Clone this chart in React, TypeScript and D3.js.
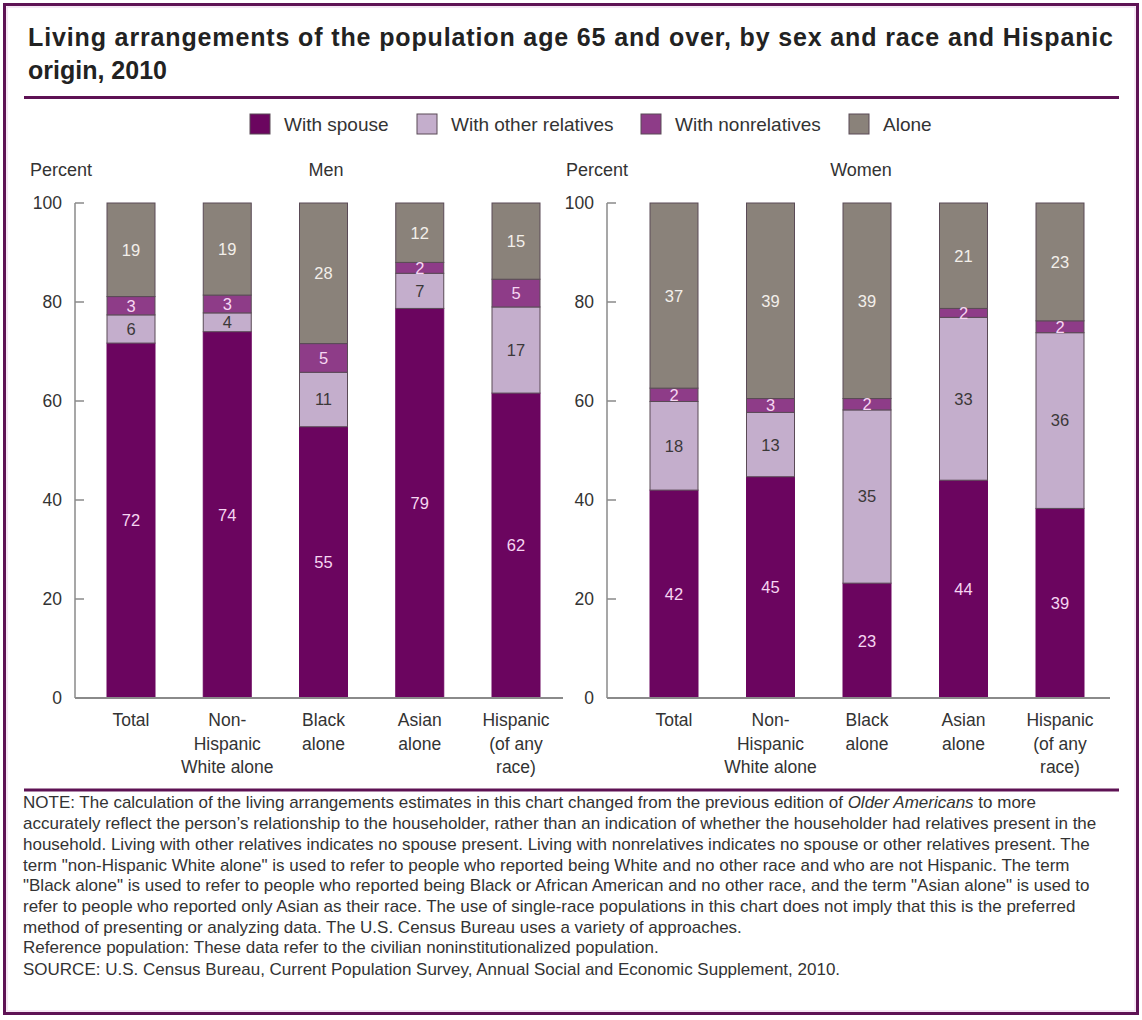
import React from "react";
import * as d3 from "d3";

const categories = ["Total", "Non-Hispanic White alone", "Black alone", "Asian alone", "Hispanic (of any race)"];
const categoryLines = [["Total"], ["Non-", "Hispanic", "White alone"], ["Black", "alone"], ["Asian", "alone"], ["Hispanic", "(of any", "race)"]];
const seriesNames = ["With spouse", "With other relatives", "With nonrelatives", "Alone"];
const seriesColors = ["#6b055f", "#c4aecc", "#8e3c88", "#8a827a"];
const labelColors = ["#f6d6f2", "#3b3838", "#f6d6f2", "#f3efea"];

// Estimated stack heights (percent)
const menSpouse = [71.7, 74.0, 54.8, 78.7, 61.6];
const menOther = [5.7, 3.8, 11.0, 7.1, 17.4];
const menNonrel = [3.7, 3.6, 5.8, 2.2, 5.6];
const menAlone = [18.9, 18.6, 28.4, 12.0, 15.4];
// Published labels
const menSpouseLbl = ["72", "74", "55", "79", "62"];
const menOtherLbl = ["6", "4", "11", "7", "17"];
const menNonrelLbl = ["3", "3", "5", "2", "5"];
const menAloneLbl = ["19", "19", "28", "12", "15"];

const womenSpouse = [42.0, 44.7, 23.2, 44.0, 38.3];
const womenOther = [17.9, 13.0, 35.0, 32.9, 35.5];
const womenNonrel = [2.7, 2.8, 2.3, 1.8, 2.4];
const womenAlone = [37.4, 39.5, 39.5, 21.3, 23.8];
const womenSpouseLbl = ["42", "45", "23", "44", "39"];
const womenOtherLbl = ["18", "13", "35", "33", "36"];
const womenNonrelLbl = ["2", "3", "2", "2", "2"];
const womenAloneLbl = ["37", "39", "39", "21", "23"];

const yTicks = [0, 20, 40, 60, 80, 100];

const noteLines = [
  "accurately reflect the person\u2019s relationship to the householder, rather than an indication of whether the householder had relatives present in the",
  "household. Living with other relatives indicates no spouse present. Living with nonrelatives indicates no spouse or other relatives present. The",
  "term \"non-Hispanic White alone\" is used to refer to people who reported being White and no other race and who are not Hispanic. The term",
  "\"Black alone\" is used to refer to people who reported being Black or African American and no other race, and the term \"Asian alone\" is used to",
  "refer to people who reported only Asian as their race. The use of single-race populations in this chart does not imply that this is the preferred",
  "method of presenting or analyzing data. The U.S. Census Bureau uses a variety of approaches.",
];

const FONT = "Arial, 'Liberation Sans', sans-serif";
const PURPLE = "#5e1254";

type PanelProps = {
  title: string;
  axisX: number;
  xStart: number;
  xEnd: number;
  axisEnd: number;
  percentX: number;
  titleX: number;
  values: number[][];
  labels: string[][];
};

function Panel({ title, axisX, xStart, xEnd, axisEnd, percentX, titleX, values, labels }: PanelProps) {
  const y = d3.scaleLinear().domain([0, 100]).range([698, 203]);
  const x = d3.scalePoint<string>().domain(categories).range([xStart, xEnd]);
  const barW = 48;
  const rows = categories.map((c, i) => {
    const obj: any = { cat: c };
    seriesNames.forEach((s, j) => (obj[s] = values[j][i]));
    return obj;
  });
  const stacked = d3.stack<any>().keys(seriesNames)(rows);
  return (
    <g>
      <text x={percentX} y={176} fontSize={18} fill="#333">Percent</text>
      <text x={titleX} y={176} fontSize={18} fill="#333" textAnchor="middle">{title}</text>
      {stacked.map((layer, j) =>
        layer.map((d, i) => {
          const cx = x(categories[i])!;
          const y0 = y(d[1]);
          const y1 = y(d[0]);
          return (
            <rect key={`${j}-${i}`} x={cx - barW / 2} y={y0} width={barW} height={y1 - y0} fill={seriesColors[j]}
              stroke={j === 0 ? seriesColors[0] : "#5a4a56"} strokeWidth={1} />
          );
        })
      )}
      {stacked.map((layer, j) =>
        layer.map((d, i) => {
          const cx = x(categories[i])!;
          const ym = (y(d[1]) + y(d[0])) / 2;
          return (
            <text key={`l${j}-${i}`} x={cx} y={ym} dy="0.36em" textAnchor="middle" fontSize={16.5} fill={labelColors[j]}>
              {labels[j][i]}
            </text>
          );
        })
      )}
      <line x1={axisX} x2={axisX} y1={203} y2={698} stroke="#8a8a8a" strokeWidth={1.5} />
      <line x1={axisX} x2={axisEnd} y1={698} y2={698} stroke="#8a8a8a" strokeWidth={2} />
      {yTicks.map((t) => (
        <g key={t}>
          <line x1={axisX} x2={axisX + 9} y1={y(t)} y2={y(t)} stroke="#8a8a8a" strokeWidth={1.5} />
          <text x={axisX - 13} y={y(t)} dy="0.36em" textAnchor="end" fontSize={17.5} fill="#333">{t}</text>
        </g>
      ))}
      {categoryLines.map((lines, i) => (
        <text key={i} x={x(categories[i])!} y={726} textAnchor="middle" fontSize={17.5} fill="#333">
          {lines.map((ln, k) => (
            <tspan key={k} x={x(categories[i])!} dy={k === 0 ? 0 : 23.5}>{ln}</tspan>
          ))}
        </text>
      ))}
    </g>
  );
}

export default function App() {
  const legendX = [250, 417, 641, 849];
  return (
    <svg width={1142} height={1020} style={{ position: "absolute", left: 0, top: 0, background: "#fff" }} fontFamily={FONT}>
      <rect x={0} y={0} width={1142} height={1020} fill="#fff" />
      <rect x={4.5} y={4.5} width={1133} height={1009} fill="none" stroke={PURPLE} strokeWidth={3} />
      <rect x={7} y={7} width={1128} height={1004} fill="none" stroke="#ecd2ea" strokeWidth={1} />
      <text x={28} y={46} fontSize={25} fontWeight="bold" fill="#222" textLength={1085} lengthAdjust="spacing">
        Living arrangements of the population age 65 and over, by sex and race and Hispanic
      </text>
      <text x={28} y={79} fontSize={25} fontWeight="bold" fill="#222">origin, 2010</text>
      <line x1={24} x2={1119} y1={97.5} y2={97.5} stroke={PURPLE} strokeWidth={3} />
      {seriesNames.map((s, j) => (
        <g key={s}>
          <rect x={legendX[j]} y={114} width={20} height={20} fill={seriesColors[j]} stroke="#5a4a56" strokeWidth={1} />
          <text x={legendX[j] + 34} y={124} dy="0.36em" fontSize={19} fill="#333">{s}</text>
        </g>
      ))}
      <Panel title="Men" axisX={75} xStart={131} xEnd={516} axisEnd={563} percentX={30} titleX={326}
        values={[menSpouse, menOther, menNonrel, menAlone]}
        labels={[menSpouseLbl, menOtherLbl, menNonrelLbl, menAloneLbl]} />
      <Panel title="Women" axisX={607} xStart={674} xEnd={1060} axisEnd={1110} percentX={566} titleX={861}
        values={[womenSpouse, womenOther, womenNonrel, womenAlone]}
        labels={[womenSpouseLbl, womenOtherLbl, womenNonrelLbl, womenAloneLbl]} />
      <line x1={24} x2={1119} y1={790} y2={790} stroke={PURPLE} strokeWidth={3} />
      <g fontSize={17} fill="#333">
        <text x={23} y={808}>
          NOTE: The calculation of the living arrangements estimates in this chart changed from the previous edition of{" "}
          <tspan fontStyle="italic">Older Americans</tspan> to more
        </text>
        {noteLines.map((ln, i) => (
          <text key={i} x={23} y={829 + i * 20.8}>{ln}</text>
        ))}
        <text x={23} y={953}>Reference population: These data refer to the civilian noninstitutionalized population.</text>
        <text x={23} y={975}>SOURCE: U.S. Census Bureau, Current Population Survey, Annual Social and Economic Supplement, 2010.</text>
      </g>
    </svg>
  );
}
